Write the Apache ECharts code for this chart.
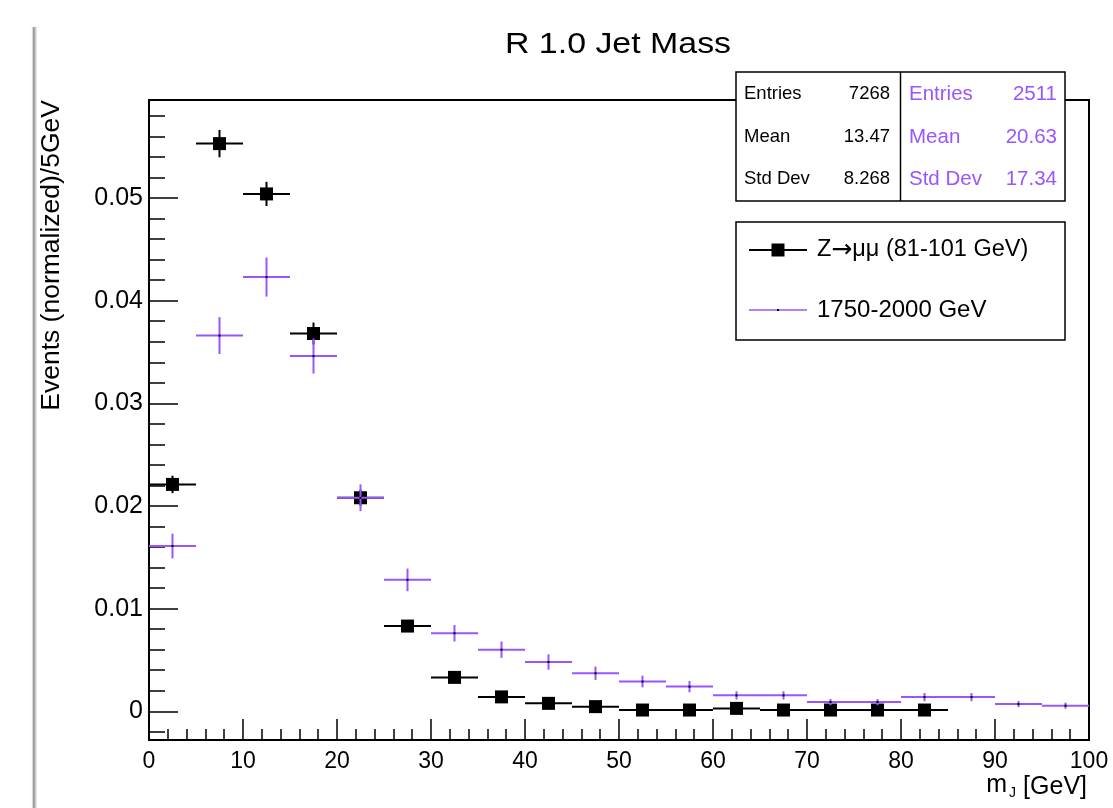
<!DOCTYPE html>
<html>
<head>
<meta charset="utf-8">
<title>R 1.0 Jet Mass</title>
<script src="https://cdn.jsdelivr.net/npm/echarts@6/dist/echarts.min.js"></script>
<style>
  html, body { margin: 0; padding: 0; background: #fff; }
  #chart { width: 1113px; height: 808px; }
</style>
</head>
<body>
<div id="chart"></div>
<script>
// bin centres of the 5 GeV mass bins
var binCenters = [2.5, 7.5, 12.5, 17.5, 22.5, 27.5, 32.5, 37.5, 42.5, 47.5,
                  52.5, 57.5, 62.5, 67.5, 72.5, 77.5, 82.5, 87.5, 92.5, 97.5];

// Z->mumu sample (black squares), filled up to 85 GeV
var zmumuValues = [0.0221, 0.0553, 0.0504, 0.0368, 0.0208, 0.0083, 0.0033, 0.0014, 0.00077, 0.00045,
                   0.00012, 0.00012, 0.00028, 0.00012, 0.00012, 0.00012, 0.00012];
var zmumuErrors = [0.00085, 0.00133, 0.00118, 0.00107, 0.0008, 0.0005, 0.0003, 0.0002, 0.00015, 0.0001,
                   0.0001, 0.0001, 0.0001, 0.0001, 0.0001, 0.0001, 0.0001];

// 1750-2000 GeV sample (violet crosses)
var highptValues = [0.0161, 0.0366, 0.0423, 0.0346, 0.0208, 0.0128, 0.0076, 0.0060, 0.0048, 0.0037,
                    0.0029, 0.0024, 0.00155, 0.00155, 0.0009, 0.0009, 0.00138, 0.00138, 0.0007, 0.00054];
var highptErrors = [0.0012, 0.0018, 0.0019, 0.0017, 0.0013, 0.0011, 0.0008, 0.0008, 0.00075, 0.00065,
                    0.00057, 0.00055, 0.0004, 0.0004, 0.0003, 0.0003, 0.0004, 0.0004, 0.0003, 0.0003];

// axis ticks
var yTickLabels = [0, 0.01, 0.02, 0.03, 0.04, 0.05];
var yMinorTicks = [-0.002, 0.002, 0.004, 0.006, 0.008, 0.012, 0.014, 0.016, 0.018, 0.022, 0.024,
                   0.026, 0.028, 0.032, 0.034, 0.036, 0.038, 0.042, 0.044, 0.046, 0.048, 0.052,
                   0.054, 0.056, 0.058];

// stats box
var statNames = ['Entries', 'Mean', 'Std Dev'];
var zmumuStats = ['7268', '13.47', '8.268'];
var highptStats = ['2511', '20.63', '17.34'];

var legendNames = ['Z\u2192\u03bc\u03bc (81-101 GeV)', '1750-2000 GeV'];

var VIOLET = '#9955ff';
var FONT = '"Liberation Sans", Arial, Helvetica, sans-serif';
var binHalf = 2.5;

var myChart = echarts.init(document.getElementById('chart'));

function makeRender(color, withSquare) {
  return function (params, api) {
    var x = api.value(0), y = api.value(1), e = api.value(2);
    var p = api.coord([x, y]);
    var l = api.coord([x - binHalf, y]);
    var r = api.coord([x + binHalf, y]);
    var t = api.coord([x, y + e]);
    var b = api.coord([x, y - e]);
    var kids = [
      { type: 'line', shape: { x1: l[0], y1: p[1], x2: r[0], y2: p[1] }, style: { stroke: color, lineWidth: 2 } },
      { type: 'line', shape: { x1: p[0], y1: t[1], x2: p[0], y2: b[1] }, style: { stroke: color, lineWidth: 2 } }
    ];
    if (withSquare) {
      kids.push({ type: 'rect', shape: { x: p[0] - 6.5, y: p[1] - 6.5, width: 13, height: 13 }, style: { fill: '#000' } });
    } else {
      kids.push({ type: 'rect', shape: { x: p[0] - 1, y: p[1] - 1, width: 2, height: 2 }, style: { fill: '#000' } });
    }
    return { type: 'group', children: kids };
  };
}

var zmumuData = zmumuValues.map(function (v, i) { return [binCenters[i], v, zmumuErrors[i]]; });
var highptData = highptValues.map(function (v, i) { return [binCenters[i], v, highptErrors[i]]; });

// title, axis titles, stats box and legend box drawn as graphic
var graphics = [
  // window edge shadow at the left
  { type: 'rect', shape: { x: 31, y: 27, width: 6, height: 781 },
    style: { fill: new echarts.graphic.LinearGradient(0, 0, 1, 0, [
      { offset: 0, color: 'rgba(255,255,255,0)' },
      { offset: 0.45, color: '#8a8a8a' },
      { offset: 1, color: 'rgba(230,230,230,0.6)' }]) } },
  // title
  { type: 'text', x: 618, y: 45, scaleX: 1.13,
    style: { text: 'R 1.0 Jet Mass', font: '30px ' + FONT, fill: '#000', align: 'center', verticalAlign: 'middle' } },
  // y axis title
  { type: 'text', x: 52, y: 100, rotation: Math.PI / 2,
    style: { text: 'Events (normalized)/5GeV', font: '26.5px ' + FONT, fill: '#000', align: 'right', verticalAlign: 'middle' } },
  // x axis title
  { type: 'text', x: 1087, y: 787,
    style: { text: '[GeV]', font: '25px ' + FONT, fill: '#000', align: 'right', verticalAlign: 'middle' } },
  { type: 'text', x: 1009, y: 793,
    style: { text: 'J', font: '14px ' + FONT, fill: '#000', align: 'left', verticalAlign: 'middle' } },
  { type: 'text', x: 1007, y: 785,
    style: { text: 'm', font: '25px ' + FONT, fill: '#000', align: 'right', verticalAlign: 'middle' } },
  // stats box
  { type: 'rect', shape: { x: 736, y: 72, width: 329, height: 129 }, z: 10,
    style: { fill: '#fff', stroke: '#000', lineWidth: 1.5 } },
  { type: 'line', shape: { x1: 900.5, y1: 72, x2: 900.5, y2: 201 }, z: 11, style: { stroke: '#000', lineWidth: 1.5 } },
  // legend box
  { type: 'rect', shape: { x: 736, y: 222, width: 329, height: 118 }, z: 10,
    style: { fill: '#fff', stroke: '#000', lineWidth: 1.5 } },
  { type: 'line', shape: { x1: 749, y1: 250, x2: 807, y2: 250 }, z: 11, style: { stroke: '#000', lineWidth: 2 } },
  { type: 'rect', shape: { x: 771.5, y: 243.5, width: 13, height: 13 }, z: 11, style: { fill: '#000' } },
  { type: 'text', x: 817, y: 250, z: 11,
    style: {
      text: '{a|Z}{b|\u2192}{a|\u03bc\u03bc (81-101 GeV)}', fill: '#000', verticalAlign: 'middle',
      rich: {
        a: { fontSize: 23.5, fontFamily: FONT, color: '#000' },
        b: { fontSize: 25, fontFamily: '"DejaVu Sans", sans-serif', color: '#000' }
      }
    } },
  { type: 'line', shape: { x1: 749, y1: 310, x2: 807, y2: 310 }, z: 11, style: { stroke: VIOLET, lineWidth: 1.5 } },
  { type: 'rect', shape: { x: 777, y: 309, width: 2, height: 2 }, z: 11, style: { fill: '#000' } },
  { type: 'text', x: 817, y: 310, z: 11,
    style: { text: legendNames[1], font: '24px ' + FONT, fill: '#000', verticalAlign: 'middle' } }
];
var rowY = [94, 137, 179];
statNames.forEach(function (n, i) {
  graphics.push({ type: 'text', x: 744, y: rowY[i], z: 11,
    style: { text: n, font: '18.5px ' + FONT, fill: '#000', verticalAlign: 'middle' } });
  graphics.push({ type: 'text', x: 890, y: rowY[i], z: 11,
    style: { text: zmumuStats[i], font: '18.5px ' + FONT, fill: '#000', align: 'right', verticalAlign: 'middle' } });
  graphics.push({ type: 'text', x: 909, y: rowY[i], z: 11,
    style: { text: n, font: '20.5px ' + FONT, fill: VIOLET, verticalAlign: 'middle' } });
  graphics.push({ type: 'text', x: 1057, y: rowY[i], z: 11,
    style: { text: highptStats[i], font: '20.5px ' + FONT, fill: VIOLET, align: 'right', verticalAlign: 'middle' } });
});

var option = {
  animation: false,
  backgroundColor: '#fff',
  textStyle: { fontFamily: FONT },
  grid: {
    left: 149, right: 24, top: 100, bottom: 68,
    show: true, borderColor: '#000', borderWidth: 2,
    outerBoundsMode: 'none'
  },
  xAxis: {
    type: 'value', min: 0, max: 100, interval: 10,
    axisLine: { onZero: false, lineStyle: { color: '#000', width: 2 } },
    axisTick: { inside: true, length: 21, lineStyle: { color: '#000', width: 1.5 } },
    minorTick: { show: true, splitNumber: 5, length: 11, lineStyle: { color: '#000', width: 1.5 } },
    axisLabel: { color: '#000', fontSize: 23, margin: 10, showMinLabel: true, showMaxLabel: true },
    splitLine: { show: false }
  },
  yAxis: [
    {
      type: 'value', min: -0.0028, max: 0.05955,
      axisLine: { show: true, onZero: false, lineStyle: { color: '#000', width: 2 } },
      axisTick: { inside: true, length: 29, customValues: yTickLabels, lineStyle: { color: '#000', width: 1.5 } },
      axisLabel: {
        color: '#000', fontSize: 25, margin: 6, customValues: yTickLabels,
        formatter: function (v) { return v === 0 ? '0' : v.toFixed(2); }
      },
      splitLine: { show: false }
    },
    {
      type: 'value', min: -0.0028, max: 0.05955, position: 'left', offset: 0,
      axisLine: { show: false, onZero: false },
      axisTick: { show: true, inside: true, length: 16, customValues: yMinorTicks, lineStyle: { color: '#000', width: 1.5 } },
      axisLabel: { show: false },
      splitLine: { show: false }
    }
  ],
  series: [
    {
      name: legendNames[0], type: 'custom', renderItem: makeRender('#000', true),
      data: zmumuData, encode: { x: 0, y: 1 }, z: 3
    },
    {
      name: legendNames[1], type: 'custom', renderItem: makeRender(VIOLET, false),
      data: highptData, encode: { x: 0, y: 1 }, z: 4
    }
  ],
  graphic: graphics
};

option && myChart.setOption(option);
</script>
</body>
</html>
